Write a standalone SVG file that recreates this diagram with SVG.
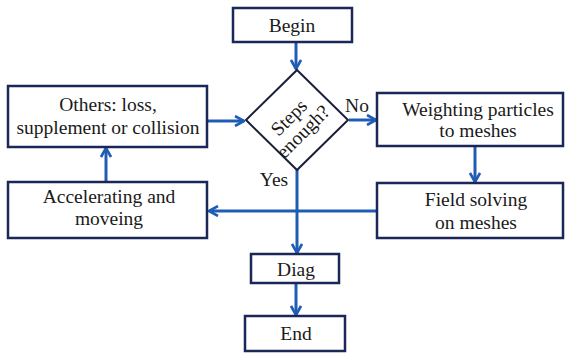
<svg xmlns="http://www.w3.org/2000/svg" width="566" height="354" viewBox="0 0 566 354">
<style>
.box{fill:#fff;stroke:#1b2756;stroke-width:2.5}
.dia{fill:#fff;stroke:#1b1f3a;stroke-width:2}
.t{font-family:'Liberation Serif','Times New Roman',serif;font-size:19.5px;fill:#1a1a1a;text-anchor:middle}
.c{fill:none;stroke:#1f5db4;stroke-width:3}
</style>
<defs>
<marker id="ah" viewBox="0 0 12 12" refX="11" refY="6" markerWidth="12" markerHeight="12" markerUnits="userSpaceOnUse" orient="auto">
<path d="M2,1 L11,6 L2,11" fill="none" stroke="#1f5db4" stroke-width="2.6"/>
</marker>
</defs>
<rect width="566" height="354" fill="#fff"/>
<g id="connectors">
<line class="c" x1="296" y1="43" x2="296" y2="69" marker-end="url(#ah)"/>
<line class="c" x1="208" y1="121" x2="244" y2="121" marker-end="url(#ah)"/>
<line class="c" x1="349" y1="120" x2="376" y2="120" marker-end="url(#ah)"/>
<line class="c" x1="475" y1="147" x2="475" y2="182" marker-end="url(#ah)"/>
<line class="c" x1="377" y1="211" x2="209" y2="211" marker-end="url(#ah)"/>
<line class="c" x1="106" y1="182" x2="106" y2="148" marker-end="url(#ah)"/>
<line class="c" x1="297" y1="170" x2="297" y2="253" marker-end="url(#ah)"/>
<line class="c" x1="296" y1="284" x2="296" y2="315" marker-end="url(#ah)"/>
<text class="t" x="357" y="112">No</text>
<text class="t" x="274" y="186">Yes</text>
</g>
<g id="begin">
<rect class="box" x="233" y="8" width="119" height="34"/>
<text class="t" x="292" y="32">Begin</text>
</g>
<g id="decision">
<polygon class="dia" points="297,70 348,120 297,170 246,120"/>
<g transform="translate(297,120) rotate(-45)">
<text class="t" x="-4" y="-1">Steps</text>
<text class="t" x="-4" y="19">enough?</text>
</g>
</g>
<g id="others">
<rect class="box" x="8" y="86" width="199" height="61"/>
<text class="t" x="108" y="111">Others: loss,</text>
<text class="t" x="108" y="134">supplement or collision</text>
</g>
<g id="weighting">
<rect class="box" x="377" y="93" width="186" height="53"/>
<text class="t" x="478" y="116">Weighting particles</text>
<text class="t" x="478" y="137">to meshes</text>
</g>
<g id="field">
<rect class="box" x="377" y="183" width="186" height="55"/>
<text class="t" x="476" y="206">Field solving</text>
<text class="t" x="476" y="229">on meshes</text>
</g>
<g id="accelerating">
<rect class="box" x="8" y="182" width="199" height="56"/>
<text class="t" x="109" y="203">Accelerating and</text>
<text class="t" x="109" y="225">moveing</text>
</g>
<g id="diag">
<rect class="box" x="251" y="254" width="88" height="29"/>
<text class="t" x="296" y="276">Diag</text>
</g>
<g id="end">
<rect class="box" x="245" y="316" width="100" height="35"/>
<text class="t" x="296" y="340">End</text>
</g>
</svg>
